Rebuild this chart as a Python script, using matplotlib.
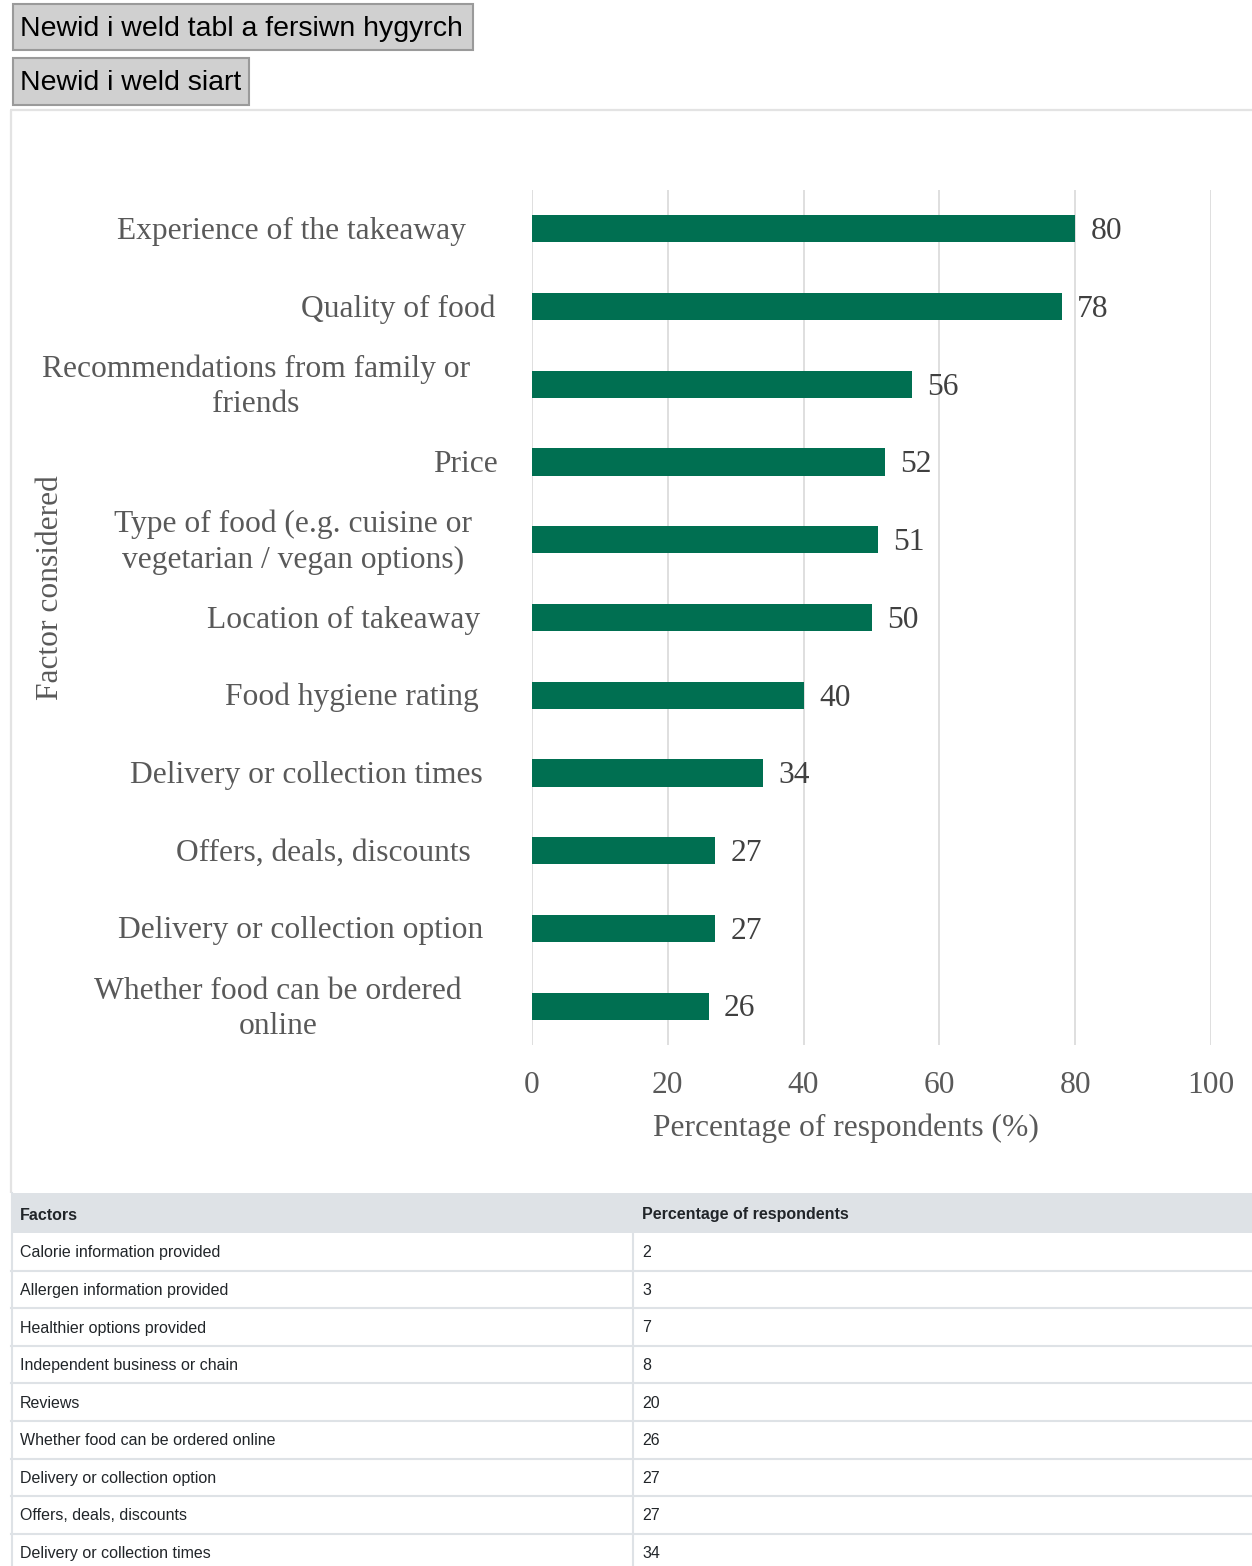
import matplotlib
matplotlib.use("Agg")
import matplotlib.pyplot as plt
from matplotlib.patches import Rectangle
from matplotlib.transforms import blended_transform_factory, ScaledTranslation

# ---------------- data ----------------
categories = [
    "Experience of the takeaway",
    "Quality of food",
    "Recommendations from family or\nfriends",
    "Price",
    "Type of food (e.g. cuisine or\nvegetarian / vegan options)",
    "Location of takeaway",
    "Food hygiene rating",
    "Delivery or collection times",
    "Offers, deals, discounts",
    "Delivery or collection option",
    "Whether food can be ordered\nonline",
]
values = [80, 78, 56, 52, 51, 50, 40, 34, 27, 27, 26]
x_ticks = [0, 20, 40, 60, 80, 100]
x_title = "Percentage of respondents (%)"
y_title = "Factor considered"

table_header = ["Factors", "Percentage of respondents"]
table_factors = [
    "Calorie information provided",
    "Allergen information provided",
    "Healthier options provided",
    "Independent business or chain",
    "Reviews",
    "Whether food can be ordered online",
    "Delivery or collection option",
    "Offers, deals, discounts",
    "Delivery or collection times",
]
table_values = [2, 3, 7, 8, 20, 26, 27, 27, 34]

button_labels = ["Newid i weld tabl a fersiwn hygyrch", "Newid i weld siart"]

# ---------------- layout / style ----------------
W, H = 1252, 1566
BAR_COLOR = "#006f51"
GRID_COLOR = "#d9d9d9"
LABEL_COLOR = "#595959"
VALUE_COLOR = "#404040"
SERIF = ["Liberation Serif", "DejaVu Serif"]
SANS = ["Liberation Sans", "DejaVu Sans"]
FS = 22.7
label_centers_px = [291, 398, 256, 465, 293, 344, 352, 306, 323, 301, 278]

fig = plt.figure(figsize=(W / 100, H / 100), dpi=100)
fig.patch.set_facecolor("white")
down = ScaledTranslation(0, -2.5 / 100, fig.dpi_scale_trans)  # shift text ~2.5px down

# overlay axes in pixel coordinates for page furniture
ov = fig.add_axes([0, 0, 1, 1], zorder=0)
ov.set_xlim(0, W)
ov.set_ylim(H, 0)
ov.axis("off")

# buttons
btn_boxes = [(13, 4, 460, 46), (13, 58, 236, 47)]
for (bx, by, bw, bh), txt in zip(btn_boxes, button_labels):
    ov.add_patch(Rectangle((bx, by), bw, bh, facecolor="#d0d0d0",
                           edgecolor="#9a9a9a", linewidth=1.5))
    ov.text(bx + 7, by + bh / 2 + 2, txt, family=SANS, fontsize=20.5,
            color="black", ha="left", va="center")

# chart container border
ov.plot([10, W], [110, 110], color="#e3e3e3", lw=1.6, solid_capstyle="butt")
ov.plot([10.5, 10.5], [110, 1193], color="#e3e3e3", lw=1.6, solid_capstyle="butt")

# table
row_h = 37.6
head_top, head_bot = 1193, 1233
col_split = 633
ov.add_patch(Rectangle((11, head_top), W - 11, head_bot - head_top,
                       facecolor="#dee2e6", edgecolor="none"))
ov.text(20, (head_top + head_bot) / 2 + 2, table_header[0], family=SANS,
        fontsize=11.5, fontweight="bold", color="#212529", ha="left", va="center")
ov.text(642, (head_top + head_bot) / 2 + 2, table_header[1], family=SANS,
        fontsize=11.5, fontweight="bold", color="#212529", ha="left", va="center")
for i, (f, v) in enumerate(zip(table_factors, table_values)):
    yc = head_bot + row_h * (i + 0.5) + 1
    ov.text(20, yc, f, family=SANS, fontsize=11.5, color="#212529",
            ha="left", va="center")
    ov.text(642, yc, str(v), family=SANS, fontsize=11.5, color="#212529",
            ha="left", va="center")
    yb = head_bot + row_h * (i + 1)
    if yb < H:
        ov.plot([11, W], [yb, yb], color="#dee2e6", lw=1.5)
ov.plot([col_split, col_split], [head_bot, H], color="#dee2e6", lw=1.5)
ov.plot([11.5, 11.5], [head_top, H], color="#dee2e6", lw=1.5)

# ---------------- chart ----------------
left, right, top, bottom = 532, 1211, 190, 1045
ax = fig.add_axes([left / W, 1 - bottom / H, (right - left) / W, (bottom - top) / H],
                  zorder=1)
ax.set_facecolor("none")
ypos = list(range(len(categories)))
ax.barh(ypos, values, height=0.35, color=BAR_COLOR, zorder=3)
ax.set_xlim(0, 100)
ax.set_ylim(len(categories) - 0.5, -0.5)
ax.set_xticks(x_ticks)
ax.set_xticklabels([str(t) for t in x_ticks], family=SERIF, fontsize=FS,
                   color=LABEL_COLOR)
ax.tick_params(axis="x", length=0, pad=19)
ax.set_yticks([])
ax.grid(axis="x", color=GRID_COLOR, linewidth=1.2, zorder=0)
for s in ax.spines.values():
    s.set_visible(False)

for y, v in zip(ypos, values):
    ax.annotate(str(v), (v, y), xytext=(11, -2), textcoords="offset points",
                ha="left", va="center", family=SERIF, fontsize=FS,
                color=VALUE_COLOR)

trans = blended_transform_factory(fig.transFigure, ax.transData) + down
for y, lab, cx in zip(ypos, categories, label_centers_px):
    ax.text(cx / W, y, lab, transform=trans, ha="center", va="center",
            multialignment="center", family=SERIF, fontsize=FS,
            color=LABEL_COLOR, linespacing=1.28)

fig.text(846 / W, 1 - 1128 / H, x_title, ha="center", va="center",
         family=SERIF, fontsize=FS, color=LABEL_COLOR)
fig.text(51 / W, 1 - 588 / H, y_title, ha="center", va="center",
         rotation=90, family=SERIF, fontsize=FS, color=LABEL_COLOR)

fig.savefig("out.png", dpi=100, facecolor="white")
